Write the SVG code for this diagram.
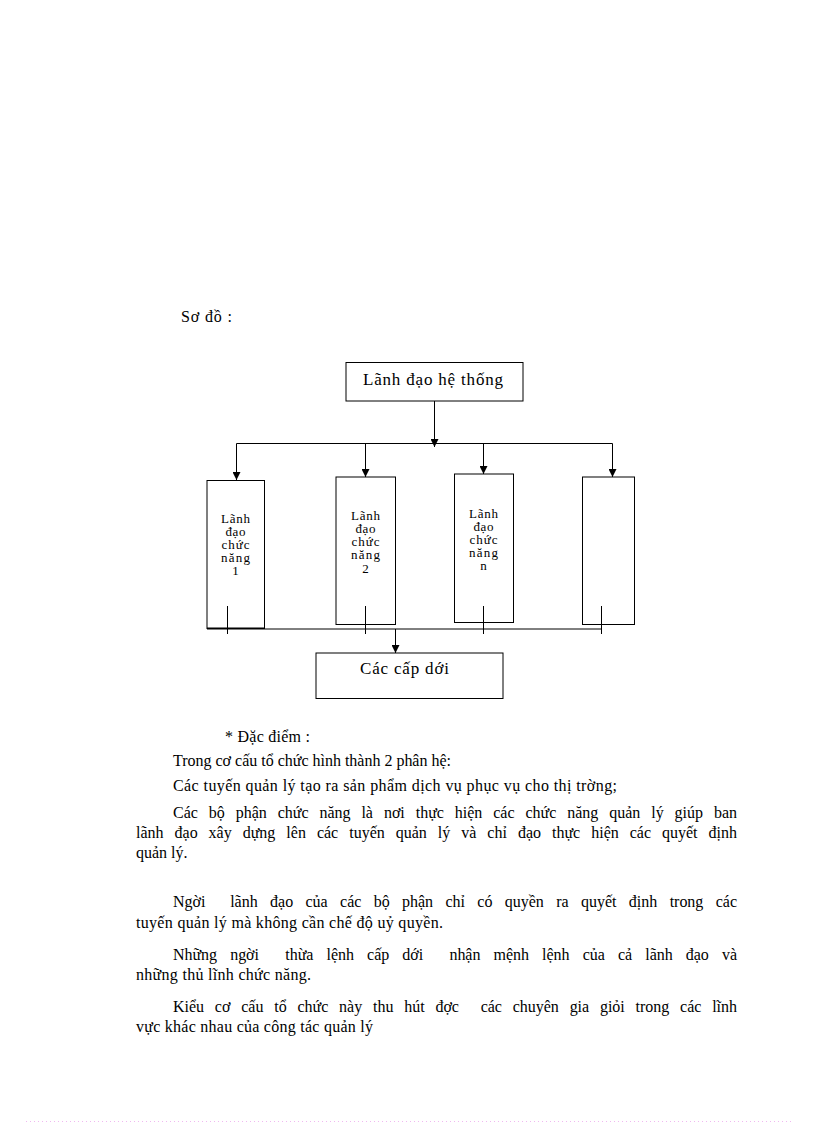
<svg xmlns="http://www.w3.org/2000/svg" width="816" height="1123" viewBox="0 0 816 1123">
<style>
.t{font-family:"Liberation Serif","Times New Roman",serif;fill:#000;white-space:pre}
.b{font-size:16px}
.h{font-size:17px}
.s{font-size:13px}
.box{fill:#fff;stroke:#000;stroke-width:1}
.ln{fill:none;stroke:#000;stroke-width:1}
</style>
<defs>
<marker id="ar" viewBox="0 0 8 8" refX="8" refY="4" markerWidth="8" markerHeight="8" markerUnits="userSpaceOnUse" orient="auto">
<path d="M0,0 L8,4 L0,8 Z" fill="#000"/>
</marker>
</defs>
<rect width="816" height="1123" fill="#fff"/>

<text class="t b" x="181" y="322" textLength="51">Sơ đồ :</text>

<g id="top">
<rect class="box" x="346" y="362.5" width="177" height="38.5"/>
<text class="t h" x="433" y="385" text-anchor="middle" textLength="140">Lãnh đạo hệ thống</text>
</g>

<g id="f1">
<rect class="box" x="207" y="480.5" width="57.5" height="148"/>
<text class="t s" text-anchor="middle"><tspan x="235.5" y="523" textLength="29">Lãnh</tspan><tspan x="235.5" y="536" textLength="20">đạo</tspan><tspan x="235.5" y="549" textLength="28">chức</tspan><tspan x="235.5" y="562" textLength="29">năng</tspan><tspan x="235.5" y="575">1</tspan></text>
</g>

<g id="f2">
<rect class="box" x="336" y="477" width="59.5" height="147.5"/>
<text class="t s" text-anchor="middle"><tspan x="365.5" y="520" textLength="29">Lãnh</tspan><tspan x="365.5" y="533" textLength="20">đạo</tspan><tspan x="365.5" y="546" textLength="28">chức</tspan><tspan x="365.5" y="559" textLength="29">năng</tspan><tspan x="365.5" y="573">2</tspan></text>
</g>

<g id="fn">
<rect class="box" x="454.5" y="474" width="59" height="148.5"/>
<text class="t s" text-anchor="middle"><tspan x="483.5" y="518" textLength="29">Lãnh</tspan><tspan x="483.5" y="531" textLength="20">đạo</tspan><tspan x="483.5" y="544" textLength="28">chức</tspan><tspan x="483.5" y="557" textLength="29">năng</tspan><tspan x="483.5" y="570">n</tspan></text>
</g>

<g id="f4">
<rect class="box" x="582.5" y="477" width="52" height="147.5"/>
</g>

<g id="bottom">
<rect class="box" x="316" y="653" width="187" height="45.5"/>
<text class="t h" x="404.5" y="674" text-anchor="middle" textLength="89">Các cấp dới</text>
</g>

<g id="connectors">
<line class="ln" x1="434.5" y1="401" x2="434.5" y2="447" marker-end="url(#ar)"/>
<line class="ln" x1="236.5" y1="443.5" x2="612.5" y2="443.5"/>
<line class="ln" x1="236.5" y1="443.5" x2="236.5" y2="480" marker-end="url(#ar)"/>
<line class="ln" x1="365.5" y1="443.5" x2="365.5" y2="477" marker-end="url(#ar)"/>
<line class="ln" x1="483.5" y1="443.5" x2="483.5" y2="474" marker-end="url(#ar)"/>
<line class="ln" x1="612.5" y1="443.5" x2="612.5" y2="477" marker-end="url(#ar)"/>
<line class="ln" x1="207" y1="629" x2="602" y2="629"/>
<line class="ln" x1="207" y1="628" x2="264" y2="628" stroke-width="2"/>
<line class="ln" x1="227.5" y1="606" x2="227.5" y2="634"/>
<line class="ln" x1="365.5" y1="606" x2="365.5" y2="634"/>
<line class="ln" x1="483.5" y1="606" x2="483.5" y2="634"/>
<line class="ln" x1="601.5" y1="606" x2="601.5" y2="634"/>
<line class="ln" x1="395.5" y1="629" x2="395.5" y2="653" marker-end="url(#ar)"/>
</g>

<g id="body">
<text class="t b" x="225" y="742" textLength="85">* Đặc điểm :</text>
<text class="t b" x="173" y="766" textLength="278">Trong cơ cấu tổ chức hình thành 2 phân hệ:</text>
<text class="t b" x="173" y="791" textLength="444">Các tuyến quản lý tạo ra sản phẩm dịch vụ phục vụ cho thị trờng;</text>
<text class="t b" x="173" y="818" word-spacing="7" textLength="564" lengthAdjust="spacing">Các bộ phận chức năng là nơi thực hiện các chức năng quản lý giúp ban</text>
<text class="t b" x="136" y="838" word-spacing="7" textLength="601" lengthAdjust="spacing">lãnh đạo xây dựng lên các tuyến quản lý và chỉ đạo thực hiện các quyết định</text>
<text class="t b" x="136" y="858">quản lý.</text>
<text class="t b" x="173" y="907" word-spacing="8.4" textLength="564" lengthAdjust="spacing">Ngời  lãnh đạo của các bộ phận chỉ có quyền ra quyết định trong các</text>
<text class="t b" x="136" y="928" textLength="307">tuyến quản lý mà không cần chế độ uỷ quyền.</text>
<text class="t b" x="173" y="960" word-spacing="9.2" textLength="564" lengthAdjust="spacing">Những ngời  thừa lệnh cấp dới  nhận mệnh lệnh của cả lãnh đạo và</text>
<text class="t b" x="136" y="980" textLength="175">những thủ lĩnh chức năng.</text>
<text class="t b" x="173" y="1012" word-spacing="6.9" textLength="564" lengthAdjust="spacing">Kiểu cơ cấu tổ chức này thu hút đợc  các chuyên gia giỏi trong các lĩnh</text>
<text class="t b" x="136" y="1032" textLength="237">vực khác nhau của công tác quản lý</text>
</g>

<line x1="26" y1="1121.5" x2="792" y2="1121.5" stroke="#f0b8f0" stroke-width="1" stroke-dasharray="1,3"/>
</svg>
